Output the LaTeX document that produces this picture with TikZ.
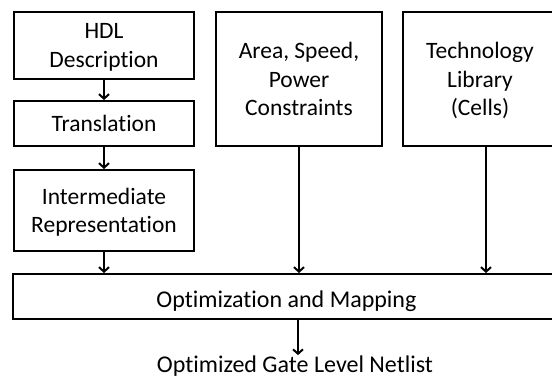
\documentclass[tikz,border=0pt]{standalone}
\usepackage{fontspec}
\setmainfont{Carlito}[Ligatures=NoCommon]
\usetikzlibrary{arrows.meta, positioning}
\tikzset{>={Straight Barb[length=4.5pt,width=10pt]}, x=1pt, y=1pt,
  txt/.style = {font=\fontsize{23.5}{28.5}\selectfont},
  block/.style = {draw, line width=2pt, inner sep=0pt, align=center,
    text depth=0pt, txt},
  link/.style = {->, line width=2pt}}

\begin{document}
\begin{tikzpicture}
    \useasboundingbox (0,0) rectangle (552,379);
    \node[block, minimum width=180, minimum height=67] (hdl) at (104,333.5) {HDL\\Description};
    \node[block, minimum width=180, minimum height=45] (trans) at (104,255.5) {Translation};
    \node[block, minimum width=180, minimum height=81] (inter) at (104,168.5) {Intermediate\\Representation};
    \node[block, minimum width=166, minimum height=134] (area) at (299,300) {Area, Speed,\\Power\\Constraints};
    \node[block, minimum width=154, minimum height=134] (tech) at (480,300) {Technology\\Library\\(Cells)};
    \node[block, minimum width=547, minimum height=45, text height=23pt,
          font=\fontsize{24}{28}\selectfont] (opt) at (286.5,82.5) {Optimization and Mapping};
    \node[inner xsep=0pt, inner ysep=1pt, anchor=base, font=\fontsize{24}{28}\selectfont]
          (out) at (295,6) {Optimized Gate Level Netlist};
    \draw[link] (hdl) -- (trans);
    \draw[link] (trans) -- (inter);
    \draw[link] (inter) -- (opt.north -| inter.south);
    \draw[link] (area) -- (area.south |- opt.north);
    \draw[link] ([xshift=6pt]tech.south) -- ([xshift=6pt]tech.south |- opt.north);
    \draw[link] ([xshift=3pt]out.north |- opt.south) -- ([xshift=3pt]out.north);
\end{tikzpicture}
\end{document}
